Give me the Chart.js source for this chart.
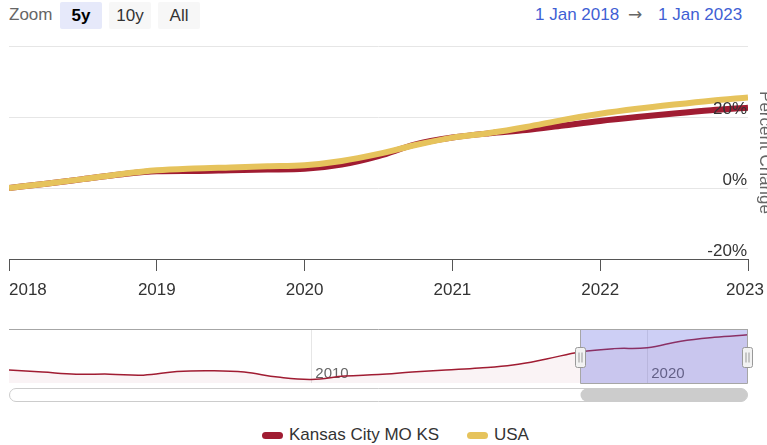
<!DOCTYPE html>
<html>
<head>
<meta charset="utf-8">
<script src="https://cdn.jsdelivr.net/npm/chart.js@4.4.1/dist/chart.umd.min.js"></script>
<style>
  html, body { margin: 0; padding: 0; background: #fff; }
  body { width: 767px; height: 445px; position: relative; overflow: hidden; font-family: "Liberation Sans", Arial, sans-serif; }
  #mainChart { position: absolute; left: 0; top: 0; }
  #navChart { position: absolute; left: 0; top: 320px; }
  .zoom { position: absolute; left: 9px; top: 5px; font-size: 17px; color: #666; }
  .btn { position: absolute; top: 2px; height: 27px; width: 42px; border-radius: 2px; background: #f7f7f7; color: #333; font-size: 17px; line-height: 27px; text-align: center; }
  .btn.on { background: #e6e9fa; color: #000; font-weight: bold; }
  .range { position: absolute; top: 5px; font-size: 17px; color: #3f5fd4; }
  .arrow { position: absolute; top: 4px; left: 628px; font-size: 17px; color: #666; font-family: "DejaVu Sans", sans-serif; }
  .legend { position: absolute; top: 425px; font-size: 17px; color: #333; }
  .swatch { position: absolute; top: 432px; width: 21px; height: 7px; border-radius: 4px; }
</style>
</head>
<body>
<div class="zoom">Zoom</div>
<div class="btn on" style="left:60px">5y</div>
<div class="btn" style="left:109px">10y</div>
<div class="btn" style="left:158px">All</div>
<div class="range" style="left:535px">1 Jan 2018</div>
<div class="arrow">→</div>
<div class="range" style="left:658px">1 Jan 2023</div>

<canvas id="mainChart" width="767" height="310"></canvas>
<canvas id="navChart" width="767" height="90"></canvas>

<div class="swatch" style="left:262px;background:#a01c32"></div>
<div class="legend" style="left:289px">Kansas City MO KS</div>
<div class="swatch" style="left:467px;background:#e6c35c"></div>
<div class="legend" style="left:494px">USA</div>

<script>
// quarterly points, percent change since 1 Jan 2018
var quarters = [2018, 2018.25, 2018.5, 2018.75, 2019, 2019.25, 2019.5, 2019.75, 2020, 2020.25, 2020.5,
                2020.75, 2021, 2021.25, 2021.5, 2021.75, 2022, 2022.25, 2022.5, 2022.75, 2023];
var kcValues = [0, 1.2, 2.5, 3.8, 4.7, 4.8, 5.0, 5.2, 5.4, 6.6, 9.0,
                12.3, 14.2, 15.4, 16.3, 17.6, 18.9, 20.0, 21.0, 21.9, 22.6];
var usaValues = [0, 1.2, 2.5, 3.9, 5.0, 5.5, 5.8, 6.1, 6.4, 7.6, 9.6,
                 12.1, 14.2, 15.5, 17.2, 19.2, 20.9, 22.3, 23.5, 24.6, 25.5];
var yTicks = [-20, 0, 20];
var xTicks = [2018, 2019, 2020, 2021, 2022, 2023];

// navigator: Kansas City index over the whole history
var navYears = [2001, 2002, 2003, 2004, 2005, 2006, 2007, 2008, 2009, 2010, 2011, 2012,
                2013, 2014, 2015, 2016, 2017, 2018, 2019, 2020, 2021, 2022, 2023];
var navKC = [76.1, 73.4, 70.7, 70.7, 69.4, 74.1, 75.1, 73.4, 66.8, 63.7, 68.1, 70.1,
             73.4, 76.1, 78.7, 82.7, 90.7, 100, 104.4, 105.6, 114.2, 119.3, 122.6];
var navTicks = [2010, 2020];
var rangeStart = 2018, rangeEnd = 2023;

var KC_COLOR = '#a01c32';
var USA_COLOR = '#e6c35c';
var FONT = '"Liberation Sans", Arial, sans-serif';

function pts(xs, ys) {
    return xs.map(function(x, i) { return { x: x, y: ys[i] }; });
}

// axis labels drawn the highstock way: y labels inside the plot, above their grid line
var mainLabels = {
    id: 'mainLabels',
    afterDraw: function(chart) {
        var ctx = chart.ctx;
        var xs = chart.scales.x, ys = chart.scales.y;
        ctx.save();
        ctx.font = '17px ' + FONT;
        ctx.fillStyle = '#333';
        ctx.textBaseline = 'alphabetic';
        ctx.textAlign = 'right';
        yTicks.forEach(function(v) {
            ctx.fillText(v + '%', chart.chartArea.right - 1, ys.getPixelForValue(v) - 3);
        });
        xTicks.forEach(function(t, i) {
            var px = xs.getPixelForValue(t);
            ctx.textAlign = i === 0 ? 'left' : 'center';
            ctx.fillText(String(t), i === xTicks.length - 1 ? px - 3 : px, chart.chartArea.bottom + 36);
        });
        // y axis title, partly outside the canvas
        ctx.translate(760, (chart.chartArea.top + chart.chartArea.bottom) / 2);
        ctx.rotate(Math.PI / 2);
        ctx.textAlign = 'center';
        ctx.fillStyle = '#666';
        ctx.fillText('Percent Change', 0, 0);
        ctx.restore();
    }
};

new Chart(document.getElementById('mainChart'), {
    type: 'line',
    data: {
        datasets: [{
            label: 'Kansas City MO KS',
            data: pts(quarters, kcValues),
            borderColor: KC_COLOR,
            borderWidth: 6,
            pointRadius: 0,
            cubicInterpolationMode: 'monotone',
            order: 1
        }, {
            label: 'USA',
            data: pts(quarters, usaValues),
            borderColor: USA_COLOR,
            borderWidth: 6,
            pointRadius: 0,
            cubicInterpolationMode: 'monotone',
            order: 0
        }]
    },
    options: {
        responsive: false,
        animation: false,
        layout: { padding: { left: 9, top: 46, right: 0, bottom: 0 } },
        plugins: { legend: { display: false }, tooltip: { enabled: false } },
        scales: {
            x: {
                type: 'linear',
                min: 2018,
                max: 2023,
                ticks: { stepSize: 1, display: false },
                grid: { drawOnChartArea: false, drawTicks: true, tickLength: 12, color: '#555' },
                border: { color: '#555', width: 1 },
                afterFit: function(s) { s.height = 51; }
            },
            y: {
                position: 'right',
                min: -20,
                max: 40,
                ticks: { stepSize: 20, display: false },
                grid: { color: '#e6e6e6', drawTicks: false },
                border: { display: false },
                afterFit: function(s) { s.width = 19; }
            }
        }
    },
    plugins: [mainLabels]
});

function roundRect(ctx, x, y, w, h, r) {
    ctx.beginPath();
    ctx.roundRect(x, y, w, h, r);
}

var navExtras = {
    id: 'navExtras',
    beforeDatasetsDraw: function(chart) {
        var ctx = chart.ctx, xs = chart.scales.x;
        ctx.save();
        ctx.font = '15px ' + FONT;
        ctx.fillStyle = '#666';
        ctx.textAlign = 'left';
        navTicks.forEach(function(t) {
            ctx.fillText(String(t), xs.getPixelForValue(t) + 4, chart.chartArea.bottom - 5);
        });
        ctx.restore();
    },
    afterDatasetsDraw: function(chart) {
        var ctx = chart.ctx, xs = chart.scales.x, a = chart.chartArea;
        var x0 = Math.round(xs.getPixelForValue(rangeStart)) + 0.5;
        var x1 = Math.round(xs.getPixelForValue(rangeEnd)) - 0.5;
        var top = a.top - 0.5, bottom = a.bottom + 0.5;
        ctx.save();
        // selected range mask
        ctx.fillStyle = 'rgba(88, 95, 222, 0.3)';
        ctx.fillRect(x0, a.top, x1 - x0, a.bottom - a.top);
        // outline
        ctx.strokeStyle = '#a6a6a6';
        ctx.lineWidth = 1;
        ctx.beginPath();
        ctx.moveTo(a.left, top);
        ctx.lineTo(a.right, top);
        ctx.moveTo(x0, top);
        ctx.lineTo(x0, bottom);
        ctx.lineTo(x1, bottom);
        ctx.lineTo(x1, top);
        ctx.stroke();
        // handles
        var hy = (a.top + a.bottom) / 2 + 1;
        [x0, x1].forEach(function(hx) {
            roundRect(ctx, hx - 5, hy - 10, 10, 20, 2);
            ctx.fillStyle = '#f2f2f2';
            ctx.fill();
            ctx.strokeStyle = '#999';
            ctx.stroke();
            ctx.beginPath();
            ctx.moveTo(hx - 1.5, hy - 5);
            ctx.lineTo(hx - 1.5, hy + 5);
            ctx.moveTo(hx + 1.5, hy - 5);
            ctx.lineTo(hx + 1.5, hy + 5);
            ctx.strokeStyle = '#999';
            ctx.stroke();
        });
        // scrollbar track and thumb
        var sy = a.bottom + 5;
        roundRect(ctx, a.left + 0.5, sy + 0.5, a.right - a.left - 1, 13, 7);
        ctx.fillStyle = '#fff';
        ctx.fill();
        ctx.strokeStyle = '#ccc';
        ctx.stroke();
        roundRect(ctx, x0, sy + 0.5, x1 - x0, 13, 7);
        ctx.fillStyle = '#cccccc';
        ctx.fill();
        ctx.restore();
    }
};

new Chart(document.getElementById('navChart'), {
    type: 'line',
    data: {
        datasets: [{
            data: pts(navYears, navKC),
            borderColor: KC_COLOR,
            borderWidth: 1.5,
            backgroundColor: 'rgba(160, 28, 50, 0.05)',
            fill: 'start',
            pointRadius: 0,
            tension: 0.4
        }]
    },
    options: {
        responsive: false,
        animation: false,
        layout: { padding: { left: 9, top: 10, right: 19, bottom: 0 } },
        plugins: { legend: { display: false }, tooltip: { enabled: false } },
        scales: {
            x: {
                type: 'linear',
                min: 2001,
                max: 2023,
                afterBuildTicks: function(s) { s.ticks = navTicks.map(function(v) { return { value: v }; }); },
                ticks: { display: false },
                grid: { color: '#e6e6e6', drawTicks: false },
                border: { display: false },
                afterFit: function(s) { s.height = 27; }
            },
            y: {
                display: false,
                min: 59,
                max: 129
            }
        }
    },
    plugins: [navExtras]
});
</script>
</body>
</html>
